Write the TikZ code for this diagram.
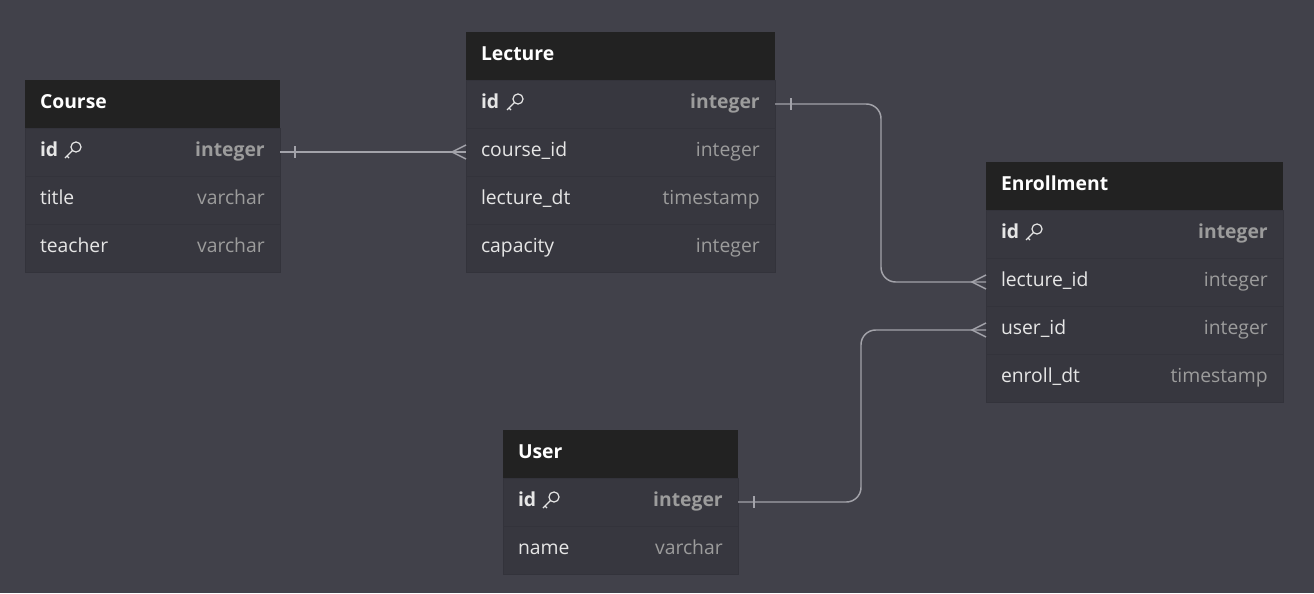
\documentclass[tikz,border=0pt]{standalone}
\usepackage{fontspec}
\setmainfont{Open Sans}
\usetikzlibrary{positioning,calc}

\definecolor{bgcol}{HTML}{41414A}
\definecolor{headcol}{HTML}{222222}
\definecolor{rowcol}{HTML}{37373F}
\definecolor{sepcol}{HTML}{33333B}
\definecolor{namecol}{HTML}{E6E6E6}
\definecolor{typecol}{HTML}{9C9C9C}
\definecolor{linkcol}{HTML}{A3A3AA}

\newcommand{\erfont}{\fontsize{14.5pt}{17pt}\selectfont}

\tikzset{
	tblhead/.style={rectangle, fill=headcol, text=white, font=\erfont\bfseries,
		anchor=north west, minimum height=36pt, inner xsep=11.25pt,
		inner ysep=0pt, outer sep=0pt, text width=#1, align=left,
		text height=10.3pt, text depth=3.5pt},
	fieldrow/.style={rectangle, fill=rowcol, draw=sepcol, line width=0.6pt,
		text=namecol, font=\erfont, minimum height=36pt, inner xsep=11.25pt,
		inner ysep=0pt, outer sep=0pt, text width=#1, align=left,
		text height=10.3pt, text depth=3.5pt},
	pkrow/.style={fieldrow=#1, font=\erfont\bfseries},
	ftype/.style={anchor=east, text=typecol, font=\erfont, xshift=-11.25pt,
		inner sep=0pt, text height=10.3pt, text depth=3.5pt},
	pktype/.style={ftype, font=\erfont\bfseries},
	link/.style={draw=linkcol, line width=1.1pt},
	pics/pkey/.style={code={
		\draw[namecol, line width=0.9pt] (4,-4) circle[radius=3.8pt];
		\draw[namecol, line width=0.9pt] (0.4,-0.4) -- (-7,7) (-5,5) -- (-3,7);
	}}
}

\begin{document}
\begin{tikzpicture}[x=0.75pt, y=-0.75pt]
	% Hintergrund
	\fill[bgcol] (0,0) rectangle (1314,593);
	\useasboundingbox (0,0) rectangle (1314,593);

	% Tabelle Course
	\node[tblhead=168.75pt] (c-head) at (25,80) {Course};
	\node[pkrow=168.75pt, below=0pt of c-head] (c-id) {id};
	\node[fieldrow=168.75pt, below=0pt of c-id] (c-title) {title};
	\node[fieldrow=168.75pt, below=0pt of c-title] (c-teacher) {teacher};
	\node[pktype] (c-id-t) at (c-id.east) {integer};
	\node[ftype] (c-title-t) at (c-title.east) {varchar};
	\node[ftype] (c-teacher-t) at (c-teacher.east) {varchar};
	\pic at ($(c-id.west)+(47,-1)$) {pkey};

	% Tabelle Lecture
	\node[tblhead=209.25pt] (l-head) at (466,32) {Lecture};
	\node[pkrow=209.25pt, below=0pt of l-head] (l-id) {id};
	\node[fieldrow=209.25pt, below=0pt of l-id] (l-cid) {course\_id};
	\node[fieldrow=209.25pt, below=0pt of l-cid] (l-dt) {lecture\_dt};
	\node[fieldrow=209.25pt, below=0pt of l-dt] (l-cap) {capacity};
	\node[pktype] (l-id-t) at (l-id.east) {integer};
	\node[ftype] (l-cid-t) at (l-cid.east) {integer};
	\node[ftype] (l-dt-t) at (l-dt.east) {timestamp};
	\node[ftype] (l-cap-t) at (l-cap.east) {integer};
	\pic at ($(l-id.west)+(48,-1)$) {pkey};

	% Tabelle Enrollment
	\node[tblhead=200.25pt] (e-head) at (986,162) {Enrollment};
	\node[pkrow=200.25pt, below=0pt of e-head] (e-id) {id};
	\node[fieldrow=200.25pt, below=0pt of e-id] (e-lid) {lecture\_id};
	\node[fieldrow=200.25pt, below=0pt of e-lid] (e-uid) {user\_id};
	\node[fieldrow=200.25pt, below=0pt of e-uid] (e-dt) {enroll\_dt};
	\node[pktype] (e-id-t) at (e-id.east) {integer};
	\node[ftype] (e-lid-t) at (e-lid.east) {integer};
	\node[ftype] (e-uid-t) at (e-uid.east) {integer};
	\node[ftype] (e-dt-t) at (e-dt.east) {timestamp};
	\pic at ($(e-id.west)+(47,-1)$) {pkey};

	% Tabelle User
	\node[tblhead=153.75pt] (u-head) at (503,430) {User};
	\node[pkrow=153.75pt, below=0pt of u-head] (u-id) {id};
	\node[fieldrow=153.75pt, below=0pt of u-id] (u-name) {name};
	\node[pktype] (u-id-t) at (u-id.east) {integer};
	\node[ftype] (u-name-t) at (u-name.east) {varchar};
	\pic at ($(u-id.west)+(47,-1)$) {pkey};

	% Beziehungen
	\draw[link] (c-id.east) -- (l-cid.west);
	\draw[link] ($(c-id.east)+(15,-6)$) -- ++(0,12);
	\draw[link] ($(l-cid.west)+(0,-7)$) -- ++(-14,7) -- ++(14,7);

	\draw[link, rounded corners=11pt] (l-id.east) -- ++(106,0) |- (e-lid.west);
	\draw[link] ($(l-id.east)+(16,-6)$) -- ++(0,12);
	\draw[link] ($(e-lid.west)+(0,-7)$) -- ++(-14,7) -- ++(14,7);

	\draw[link, rounded corners=11pt] (u-id.east) -- ++(123,0) |- (e-uid.west);
	\draw[link] ($(u-id.east)+(16,-6)$) -- ++(0,12);
	\draw[link] ($(e-uid.west)+(0,-7)$) -- ++(-14,7) -- ++(14,7);
\end{tikzpicture}
\end{document}
